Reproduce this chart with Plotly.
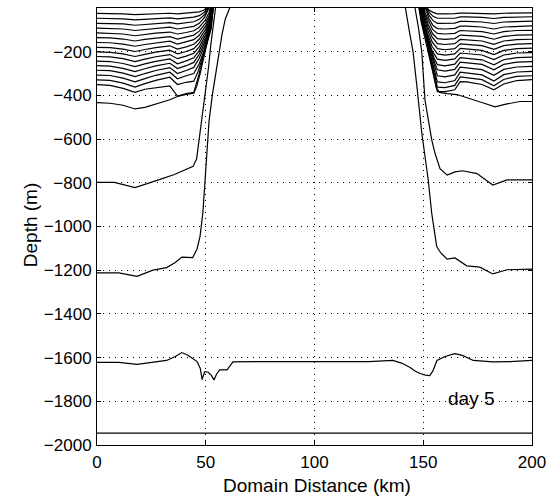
import plotly.graph_objects as go

# ---------------- data ----------------
# Left side upper isopycnals: common interior x (km) and depth (m) per line
LEFT_X = [0, 6, 12, 17.5, 22, 27, 33.5, 37, 41, 44.5]
LEFT_UPPER_D = [
    [-25, -25, -27, -30, -28, -26, -24, -27, -24, -22],
    [-47, -47, -50, -54, -51, -48, -45, -50, -46, -42],
    [-70, -70, -73, -79, -75, -71, -67, -73, -69, -63],
    [-92, -93, -96, -103, -98, -93, -88, -96, -90, -84],
    [-114, -115, -119, -127, -121, -115, -110, -119, -112, -104],
    [-136, -137, -142, -151, -144, -137, -131, -142, -134, -124],
    [-158, -159, -165, -175, -167, -159, -152, -165, -156, -145],
    [-180, -181, -188, -199, -190, -181, -173, -188, -178, -166],
    [-201, -203, -210, -222, -212, -202, -193, -210, -199, -186],
    [-222, -224, -232, -245, -234, -223, -213, -232, -220, -207],
    [-243, -245, -254, -268, -256, -244, -233, -255, -242, -228],
    [-264, -266, -276, -291, -278, -265, -253, -277, -264, -249],
    [-285, -287, -298, -314, -300, -286, -273, -300, -286, -272],
    [-307, -309, -321, -338, -323, -308, -294, -324, -310, -300],
    [-329, -331, -344, -362, -346, -331, -317, -350, -340, -335],
    [-351, -354, -368, -386, -372, -366, -356, -403, -392, -386],
]
LEFT_WALL_X = [
    [47, 49, 50.5],
    [47, 49, 51],
    [47, 49.5, 51.2],
    [47, 49.5, 51.5],
    [47, 49.8, 51.6, 52],
    [47, 50, 51.8, 52.3],
    [47, 50, 51.8, 52.5],
    [47, 50, 52, 52.7],
    [47, 50, 52, 52.8],
    [47, 50, 52, 53],
    [47, 50, 52.2, 53.1],
    [47, 50, 52.2, 53.2],
    [47, 50, 52.3, 53.3],
    [47, 50, 52.4, 53.4],
    [46.5, 48.5, 50.5, 52.5, 53.5],
    [45.5, 47, 48.5, 50, 51.5, 53],
]
LEFT_WALL_D = [
    [-18, -10, 0],
    [-35, -22, 0],
    [-52, -30, 0],
    [-70, -42, 0],
    [-88, -55, -20, 0],
    [-106, -68, -30, 0],
    [-125, -82, -40, 0],
    [-143, -96, -45, 0],
    [-160, -110, -55, 0],
    [-178, -122, -62, 0],
    [-195, -135, -70, 0],
    [-212, -148, -78, 0],
    [-230, -160, -85, 0],
    [-255, -175, -90, 0],
    [-290, -230, -165, -95, 0],
    [-355, -300, -235, -165, -90, 0],
]

# Right side upper isopycnals
RIGHT_X = [200, 193, 187, 182.5, 177, 170, 167, 164.5, 160, 156.5]
RIGHT_UPPER_D = [
    [-22, -22, -24, -27, -24, -23, -23, -26, -27, -27],
    [-40, -41, -43, -48, -43, -41, -41, -47, -48, -47],
    [-60, -61, -64, -71, -64, -61, -61, -69, -71, -70],
    [-82, -83, -87, -96, -87, -83, -83, -93, -96, -94],
    [-102, -103, -108, -119, -108, -103, -103, -116, -119, -116],
    [-123, -124, -130, -143, -130, -125, -124, -140, -144, -140],
    [-143, -145, -151, -166, -151, -145, -144, -163, -167, -163],
    [-163, -165, -172, -189, -172, -166, -164, -186, -191, -186],
    [-184, -186, -194, -213, -194, -187, -185, -210, -216, -210],
    [-204, -206, -215, -236, -215, -208, -206, -233, -240, -234],
    [-225, -227, -237, -260, -237, -229, -227, -257, -265, -259],
    [-245, -248, -258, -283, -258, -250, -248, -281, -289, -283],
    [-267, -270, -281, -308, -282, -273, -271, -306, -315, -310],
    [-290, -293, -305, -334, -306, -296, -294, -332, -342, -338],
    [-310, -313, -327, -356, -328, -317, -315, -354, -364, -362],
    [-328, -332, -348, -374, -350, -338, -337, -374, -383, -383],
]
RIGHT_WALL_X = [
    [154.5, 153, 151.8],
    [154.5, 153, 151.5],
    [154.5, 152.8, 151.2],
    [154.5, 152.6, 151],
    [154.3, 152.5, 150.8, 150.5],
    [154.3, 152.3, 150.6, 150.2],
    [154.2, 152.2, 150.4, 150],
    [154.1, 152, 150.2, 149.7],
    [154, 151.8, 150, 149.4],
    [154, 151.7, 149.8, 149.2],
    [155, 153, 151.5, 149.6, 149],
    [155.2, 153.2, 151.5, 149.5, 148.8],
    [155.3, 153.3, 151.5, 149.4, 148.6],
    [155.4, 153.4, 151.5, 149.3, 148.4],
    [155.5, 153.5, 151.6, 149.2, 148.2],
    [155.6, 153.6, 151.7, 149.2, 148],
]
RIGHT_WALL_D = [
    [-20, -12, 0],
    [-38, -22, 0],
    [-58, -35, 0],
    [-80, -48, 0],
    [-98, -60, -20, 0],
    [-118, -75, -25, 0],
    [-135, -88, -30, 0],
    [-155, -100, -35, 0],
    [-175, -112, -40, 0],
    [-195, -125, -45, 0],
    [-230, -170, -110, -45, 0],
    [-250, -185, -120, -50, 0],
    [-270, -200, -130, -55, 0],
    [-295, -220, -140, -60, 0],
    [-320, -240, -150, -65, 0],
    [-345, -260, -165, -70, 0],
]

# Deeper isopycnals (left and right parts)
ISO440_L_X = [0, 6, 12, 17.5, 22, 27, 33.5, 37, 41, 44.5, 45.8, 47.3, 48.8, 50.3, 51.8, 53.5]
ISO440_L_D = [-433, -436, -445, -462, -455, -440, -420, -405, -395, -390, -360, -305, -245, -175, -95, 0]
ISO440_R_X = [200, 194.5, 188, 183, 178, 173, 168, 165.5, 161, 157.5, 156, 154.5, 153, 151.5, 149.5, 148.5]
ISO440_R_D = [-428, -428, -440, -452, -436, -420, -405, -396, -392, -386, -365, -300, -220, -140, -60, 0]

ISO800_L_X = [0, 8, 17.5, 25.7, 30, 35.6, 39, 41.2, 44.2, 45.8, 47, 48.5, 50, 51.3, 52.3, 53.3, 54.5]
ISO800_L_D = [-798, -798, -822, -797, -781, -762, -748, -740, -725, -690, -600, -490, -380, -270, -170, -80, 0]
ISO800_R_X = [200, 194.5, 188.5, 182, 174.7, 168, 164.6, 161, 157.7, 155.4, 153.9, 152.3, 150.8, 149.3, 147.8, 146.2]
ISO800_R_D = [-787, -787, -787, -810, -758, -745, -750, -765, -735, -665, -604, -510, -421, -200, -90, 0]

ISO1220_L_X = [0, 10, 18.4, 25.7, 32, 36, 39, 44, 46, 47.4, 48.7, 49.7, 50.5, 51.5, 53, 54.5, 56, 57.5, 59, 61]
ISO1220_L_D = [-1212, -1212, -1228, -1200, -1188, -1165, -1140, -1142, -1103, -1044, -934, -784, -650, -520, -400, -300, -200, -120, -50, 0]
ISO1220_R_X = [200, 194, 188.5, 182, 176, 170, 164.6, 161, 158, 156.2, 153.9, 152.3, 150.8, 149.3, 146.9, 145.3, 143.5, 141.8]
ISO1220_R_D = [-1195, -1195, -1198, -1217, -1186, -1180, -1144, -1149, -1120, -1092, -940, -787, -680, -570, -342, -200, -100, 0]

ISO1630_X = [0, 10, 18.4, 25, 32, 36, 39, 42, 44, 46, 47.5, 48.3, 49.5, 51, 52.5, 53.8, 55, 56.4,
             59.8, 62.5, 75, 100, 125, 136, 140, 144, 146, 148.5, 151, 153, 154.5, 156.3, 160,
             164.6, 168, 173, 182, 190, 200]
ISO1630_D = [-1622, -1622, -1631, -1622, -1613, -1595, -1577, -1590, -1604, -1618, -1650, -1700, -1665,
             -1666, -1680, -1702, -1675, -1656, -1656, -1620, -1618, -1618, -1618, -1613, -1625, -1645,
             -1660, -1673, -1680, -1682, -1660, -1613, -1595, -1582, -1590, -1613, -1620, -1618, -1613]

ISO1950_X = [0, 200]
ISO1950_D = [-1946, -1946]

X_TICKS = [0, 50, 100, 150, 200]
Y_TICKS = [-2000, -1800, -1600, -1400, -1200, -1000, -800, -600, -400, -200]
DAY_LABEL = "day 5"

# ---------------- figure ----------------
FONT = "Liberation Sans, Arial, Helvetica, sans-serif"
LINE = dict(color="black", width=1.2)

fig = go.Figure()


def add_line(xs, ys):
    fig.add_trace(go.Scatter(x=xs, y=ys, mode="lines", line=LINE,
                             hoverinfo="skip", showlegend=False))


for d, wx, wd in zip(LEFT_UPPER_D, LEFT_WALL_X, LEFT_WALL_D):
    add_line(LEFT_X + wx, d + wd)
for d, wx, wd in zip(RIGHT_UPPER_D, RIGHT_WALL_X, RIGHT_WALL_D):
    add_line(RIGHT_X + wx, d + wd)

add_line(ISO440_L_X, ISO440_L_D)
add_line(ISO440_R_X, ISO440_R_D)
add_line(ISO800_L_X, ISO800_L_D)
add_line(ISO800_R_X, ISO800_R_D)
add_line(ISO1220_L_X, ISO1220_L_D)
add_line(ISO1220_R_X, ISO1220_R_D)
add_line(ISO1630_X, ISO1630_D)
add_line(ISO1950_X, ISO1950_D)

axis_common = dict(
    showline=True, linecolor="black", linewidth=1, mirror="ticks",
    ticks="inside", ticklen=4, tickcolor="black", tickwidth=1,
    showgrid=True, gridcolor="black", gridwidth=1, griddash="1px,5px",
    zeroline=False,
    tickfont=dict(family=FONT, size=17, color="black"),
)

fig.update_xaxes(range=[0, 200], tickvals=X_TICKS, ticklabelstandoff=2, **axis_common)
fig.update_yaxes(range=[-2000, 0], tickvals=Y_TICKS, ticklabelstandoff=1, **axis_common)

fig.add_annotation(text=DAY_LABEL, x=172, y=-1787, xref="x", yref="y", showarrow=False,
                   xanchor="center", yanchor="middle",
                   font=dict(family=FONT, size=19, color="black"))
fig.add_annotation(text="Domain Distance (km)", x=0.506, y=-0.092, xref="paper", yref="paper",
                   xanchor="center", yanchor="middle",
                   showarrow=False, font=dict(family=FONT, size=19, color="black"))
fig.add_annotation(text="Depth (m)", x=-0.154, y=0.503, xref="paper", yref="paper",
                   xanchor="center", yanchor="middle",
                   textangle=-90, showarrow=False,
                   font=dict(family=FONT, size=19, color="black"))

fig.update_layout(
    width=556, height=498,
    margin=dict(l=97, r=24, t=8, b=53),
    paper_bgcolor="white", plot_bgcolor="white",
    showlegend=False,
)

fig.write_html("out.html")
